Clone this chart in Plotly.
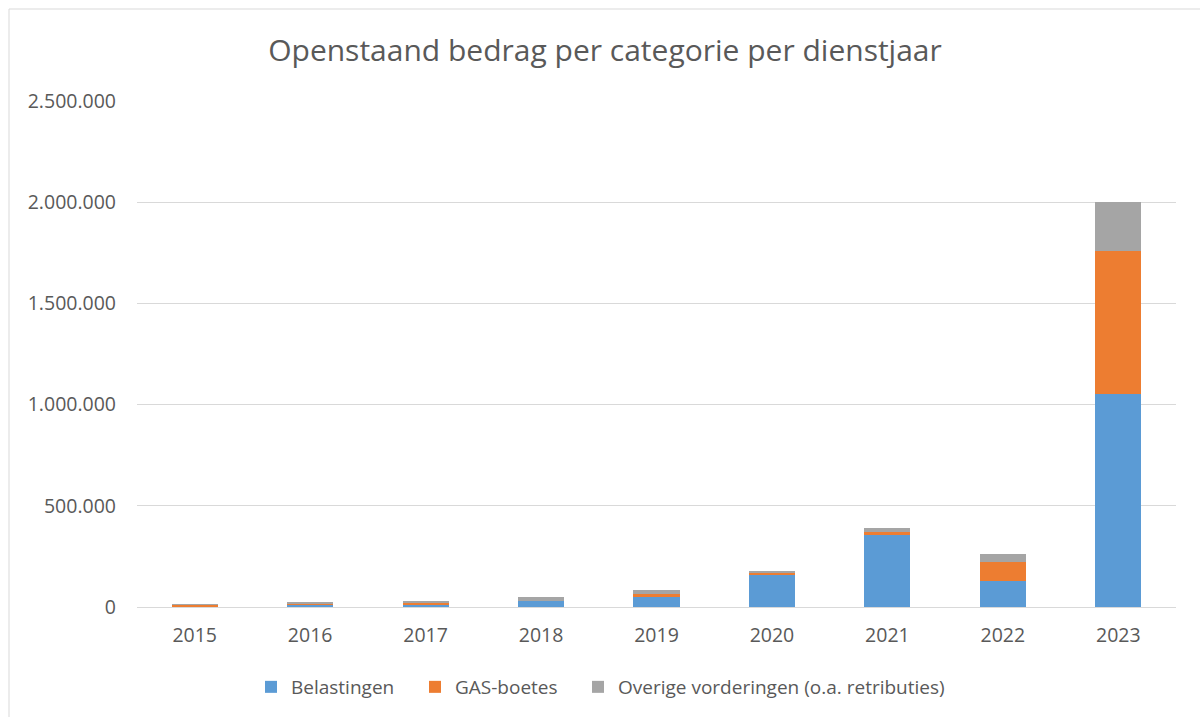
import plotly.graph_objects as go

years = ["2015", "2016", "2017", "2018", "2019", "2020", "2021", "2022", "2023"]
belastingen = [1000, 14000, 10000, 30000, 48000, 158000, 355000, 130000, 1053000]
gas_boetes = [9000, 2000, 13000, 2000, 18000, 12000, 18000, 94000, 707000]
overige = [1000, 5000, 7000, 16000, 18000, 7000, 18000, 38000, 240000]

series = [
    ("Belastingen", belastingen, "#5b9bd5", "legend", 251),
    ("GAS-boetes", gas_boetes, "#ed7d31", "legend2", 415),
    ("Overige vorderingen (o.a. retributies)", overige, "#a5a5a5", "legend3", 578),
]

fig = go.Figure()
for name, vals, col, leg, _ in series:
    fig.add_trace(go.Bar(x=years, y=vals, name=name, legend=leg,
                         marker=dict(color=col, line=dict(width=0))))

W, H = 1200, 717
ml, mr, mt, mb = 137, 24, 101, 110
pw, ph = W - ml - mr, H - mt - mb

def px(x):
    return (x - ml) / pw

def py(y):
    return (H - mb - y) / ph

FONT = "Open Sans, Liberation Sans, sans-serif"

legends = {}
for _, _, _, leg, lx in series:
    legends[leg] = dict(orientation="h", x=px(lx), xanchor="left", y=py(687), yanchor="middle",
                        font=dict(size=19, color="#595959"), itemwidth=30,
                        bgcolor="rgba(0,0,0,0)")

fig.update_layout(
    width=W, height=H,
    barmode="stack", bargap=0.6,
    separators=",.",
    paper_bgcolor="white", plot_bgcolor="white",
    margin=dict(l=ml, r=mr, t=mt, b=mb, autoexpand=False),
    font=dict(family=FONT, color="#595959", size=19),
    title=dict(text="Openstaand bedrag per categorie per dienstjaar", x=605 / W, xanchor="center",
               y=1 - 50 / H, yanchor="middle",
               font=dict(family=FONT, size=30, color="#595959")),
    showlegend=True,
    shapes=[dict(type="rect", xref="paper", yref="paper", x0=px(9), x1=px(1215), y0=py(730), y1=py(9),
                 line=dict(color="#d9d9d9", width=1), fillcolor="rgba(0,0,0,0)", layer="below")],
    **legends,
)
fig.update_xaxes(showgrid=False, showline=True, linecolor="#d9d9d9", linewidth=1, ticks="",
                 ticklabelstandoff=11, tickfont=dict(size=19.5, color="#595959"))
fig.update_yaxes(range=[0, 2500000], dtick=500000, tickformat=",d", showgrid=True, gridcolor="#d9d9d9",
                 gridwidth=1, zeroline=False, showline=False, ticks="", ticklen=0,
                 ticklabelstandoff=20, tickfont=dict(size=19.5, color="#595959"))

fig.write_html("out.html", config={"displayModeBar": False},
               post_script="document.body.style.margin='0';document.body.style.overflow='hidden';")
